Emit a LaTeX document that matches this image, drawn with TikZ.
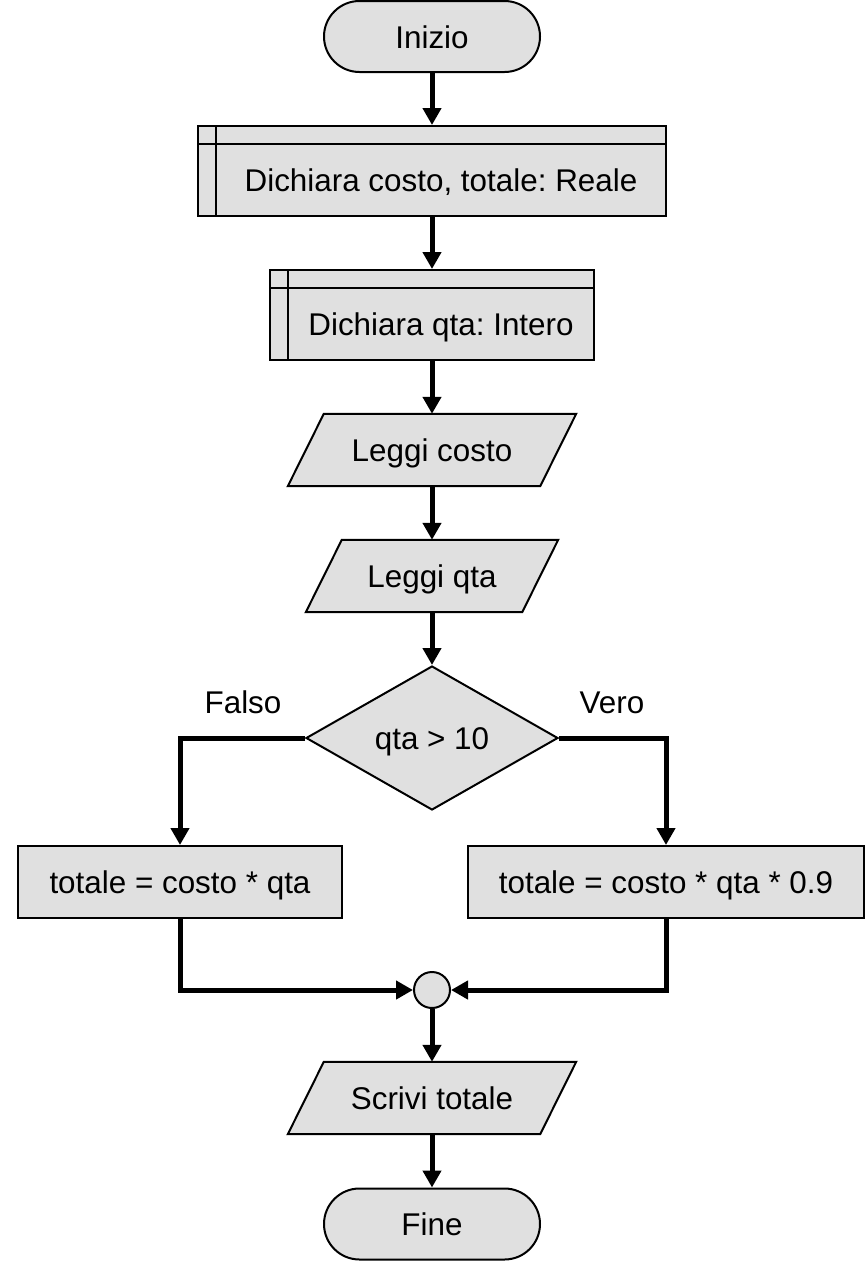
\documentclass[tikz,border=0pt]{standalone}
\usepackage{fontspec}
\setmainfont{Liberation Sans}
\usetikzlibrary{arrows.meta,shapes.geometric,calc,backgrounds}
\definecolor{boxfill}{HTML}{E0E0E0}
\frenchspacing
\begin{document}
\begin{tikzpicture}[x=1pt,y=-1pt,
  font=\fontsize{31.4}{38}\selectfont,
  every node/.append style={text height=24pt, text depth=1pt},
  base/.style={draw=black, line width=2pt, fill=boxfill},
  term/.style={base, rounded corners=35.5pt, minimum width=216pt, minimum height=71pt, inner sep=0pt},
  decl/.style={base, minimum height=90pt, inner sep=0pt, text height=42pt, text depth=1pt,
    path picture={
      \draw[line width=2pt] ([xshift=18pt]path picture bounding box.north west) -- ([xshift=18pt]path picture bounding box.south west);
      \draw[line width=2pt] ([yshift=-18pt]path picture bounding box.north west) -- ([yshift=-18pt]path picture bounding box.north east);}},
  iotext/.style={minimum height=72pt, inner sep=0pt},
  iobox/.style={base},
  proc/.style={base, minimum height=72pt, inner sep=0pt},
  decision/.style={base, diamond, aspect=1.75, minimum width=252pt, minimum height=144pt, inner sep=0pt},
  joint/.style={base, circle, minimum size=36pt, inner sep=0pt},
  flow/.style={draw=black, line width=5pt, -{Triangle[length=17pt,width=18pt]}},
  branch/.style={inner sep=0pt}
]
\useasboundingbox (0,0) rectangle (865,1261);

% nodes
\node[term] (start) at (432,36.5) {Inizio};
\node[decl, minimum width=468pt] (d1) at (432,171) {\hspace*{18pt}Dichiara costo, totale: Reale};
\node[decl, minimum width=324pt] (d2) at (432,315) {\hspace*{18pt}Dichiara qta: Intero};
\node[iotext, minimum width=288pt] (rc) at (432,450) {Leggi costo};
\node[iotext, minimum width=252pt] (rq) at (432,576) {Leggi qta};
\node[decision] (cond) at (432,738) {qta > 10};
\node[branch] (lf) at (243,702) {Falso};
\node[branch] (lv) at (612,702) {Vero};
\node[proc, minimum width=324pt] (pf) at (180,882) {totale = costo * qta};
\node[proc, minimum width=396pt] (pv) at (666,882) {totale = costo * qta * 0.9};
\node[joint] (join) at (432,990) {};
\node[iotext, minimum width=288pt] (wt) at (432,1098) {Scrivi totale};
\node[term] (stop) at (432,1224) {Fine};

% parallelogram outlines behind the input/output texts
\begin{scope}[on background layer]
  \foreach \n in {rc,rq,wt}{
    \path[iobox] ($(\n.north west)+(36,0)$) -- (\n.north east) -- ($(\n.south east)+(-36,0)$) -- (\n.south west) -- cycle;
  }
\end{scope}

% connectors
\draw[flow] (start) -- (d1);
\draw[flow] (d1) -- (d2);
\draw[flow] (d2) -- (rc);
\draw[flow] (rc) -- (rq);
\draw[flow] (rq) -- (cond);
\draw[flow] (cond.west) -| (pf.north);
\draw[flow] (cond.east) -| (pv.north);
\draw[flow] (pf.south) |- (join.west);
\draw[flow] (pv.south) |- (join.east);
\draw[flow] (join) -- (wt);
\draw[flow] (wt) -- (stop);
\end{tikzpicture}
\end{document}
